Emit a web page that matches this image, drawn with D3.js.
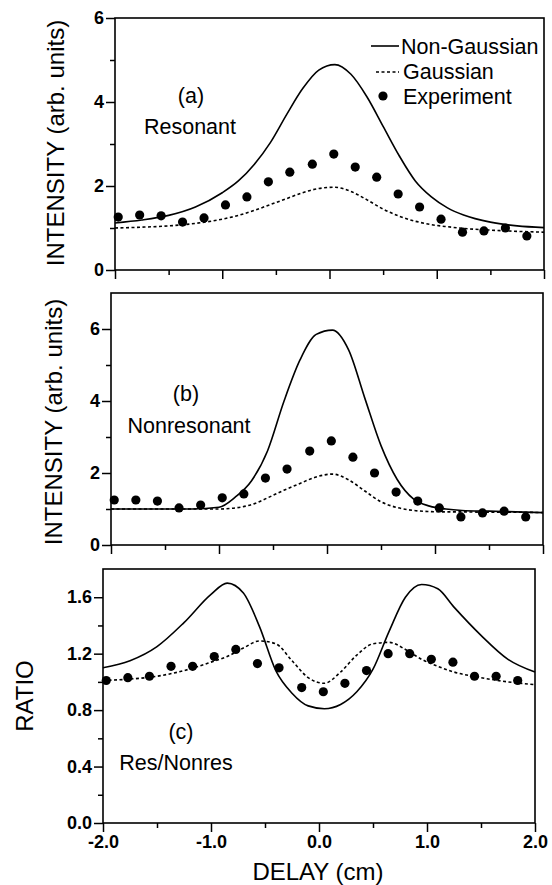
<!DOCTYPE html>
<html>
<head>
<meta charset="utf-8">
<script src="https://cdn.jsdelivr.net/npm/d3@7"></script>
<style>
  body { margin: 0; background: #fff; }
  svg { display: block; font-family: "Liberation Sans", Arial, sans-serif; }
</style>
</head>
<body>
<div id="chart"></div>
<script>
// measured delays (cm) of the experimental points
const delay = [-1.97, -1.77, -1.57, -1.37, -1.17, -0.97, -0.77, -0.57, -0.37, -0.16,
               0.04, 0.24, 0.44, 0.64, 0.84, 1.04, 1.24, 1.44, 1.64, 1.84];

const expA = [1.26, 1.31, 1.29, 1.14, 1.24, 1.55, 1.74, 2.10, 2.33, 2.52,
              2.76, 2.45, 2.21, 1.81, 1.50, 1.21, 0.90, 0.93, 1.00, 0.81];
const expB = [1.25, 1.25, 1.22, 1.03, 1.11, 1.31, 1.42, 1.86, 2.11, 2.61,
              2.89, 2.44, 2.00, 1.47, 1.22, 1.03, 0.78, 0.89, 0.94, 0.78];
const expC = [1.01, 1.03, 1.04, 1.11, 1.11, 1.18, 1.23, 1.13, 1.10, 0.96,
              0.93, 0.99, 1.08, 1.20, 1.20, 1.16, 1.14, 1.04, 1.04, 1.01];

// sample delays for the model curves
const curveX = [-2, -1.75, -1.5, -1.25, -1, -0.85, -0.7, -0.55, -0.4, -0.25, -0.1, 0.05,
                0.2, 0.35, 0.5, 0.65, 0.8, 0.95, 1.1, 1.25, 1.5, 1.75, 2];

const nonGaussA = [1.12, 1.19, 1.30, 1.50, 1.84, 2.12, 2.52, 3.04, 3.70, 4.32, 4.76, 4.89,
                   4.66, 4.12, 3.42, 2.72, 2.12, 1.74, 1.48, 1.31, 1.14, 1.05, 1.01];
const gaussA    = [1.00, 1.02, 1.05, 1.11, 1.21, 1.30, 1.42, 1.56, 1.70, 1.84, 1.94, 1.97,
                   1.87, 1.67, 1.45, 1.28, 1.16, 1.08, 1.03, 0.99, 0.95, 0.92, 0.90];

const nonGaussB = [1.00, 1.00, 1.00, 1.00, 1.05, 1.33, 1.78, 2.62, 3.98, 5.14, 5.85, 5.97,
                   5.42, 4.08, 2.76, 1.82, 1.28, 1.08, 1.00, 0.96, 0.94, 0.92, 0.90];
const gaussB    = [1.00, 1.00, 1.00, 1.00, 1.00, 1.03, 1.12, 1.31, 1.52, 1.71, 1.89, 1.97,
                   1.81, 1.50, 1.20, 1.04, 0.96, 0.93, 0.92, 0.92, 0.91, 0.91, 0.90];

const nonGaussC = [1.10, 1.15, 1.25, 1.42, 1.62, 1.70, 1.63, 1.39, 1.08, 0.92, 0.83, 0.81,
                   0.84, 0.93, 1.09, 1.36, 1.60, 1.69, 1.66, 1.53, 1.33, 1.16, 1.07];
const gaussC    = [1.01, 1.02, 1.04, 1.08, 1.14, 1.18, 1.24, 1.29, 1.27, 1.15, 1.03, 0.99,
                   1.07, 1.19, 1.27, 1.28, 1.23, 1.16, 1.11, 1.07, 1.03, 1.00, 0.98];

const xTicks = [-2, -1, 0, 1, 2];
const xMinor = [-1.5, -0.5, 0.5, 1.5];
const yTicksI = [0, 2, 4, 6];
const yMinorI = [1, 3, 5];
const yTicksR = [0, 0.4, 0.8, 1.2, 1.6];
const yMinorR = [0.2, 0.6, 1.0, 1.4];

const legendLabels = ["Non-Gaussian", "Gaussian", "Experiment"];

const svg = d3.select("#chart").append("svg")
    .attr("width", 552)
    .attr("height", 885);

const font = "'Liberation Sans', Arial, sans-serif";

function chart(p) {
    const x = d3.scaleLinear().domain([-2, 2]).range([p.left, p.right]);
    const y = d3.scaleLinear().domain([0, p.yMax]).range([p.bottom, p.top]);
    const g = svg.append("g");

    // y axis, major + minor
    g.append("g")
        .attr("transform", `translate(${p.left},0)`)
        .call(d3.axisLeft(y).tickValues(p.yTicks).tickSize(9).tickPadding(2).tickFormat(p.fmt));
    g.append("g")
        .attr("transform", `translate(${p.left},0)`)
        .call(d3.axisLeft(y).tickValues(p.yMinor).tickSize(5).tickFormat(""));

    // x axis, major + minor
    g.append("g")
        .attr("transform", `translate(0,${p.bottom})`)
        .call(d3.axisBottom(x).tickValues(xTicks).tickSize(9).tickPadding(3)
            .tickFormat(p.xLabels ? d3.format(".1f") : ""));
    g.append("g")
        .attr("transform", `translate(0,${p.bottom})`)
        .call(d3.axisBottom(x).tickValues(xMinor).tickSize(5).tickFormat(""));

    g.selectAll(".domain").remove();
    g.selectAll(".tick line").attr("stroke", "#000").attr("stroke-width", 1.5);
    g.selectAll(".tick text")
        .attr("fill", "#000")
        .style("font-family", font)
        .style("font-size", "18px")
        .style("font-weight", "bold")
        .text(function() { return d3.select(this).text().replace("\u2212", "-"); });

    // frame
    g.append("rect")
        .attr("x", p.left).attr("y", p.top)
        .attr("width", p.right - p.left).attr("height", p.bottom - p.top)
        .attr("fill", "none").attr("stroke", "#000").attr("stroke-width", 1.6);

    const line = d3.line()
        .x((d, i) => x(curveX[i]))
        .y(d => y(d))
        .curve(d3.curveMonotoneX);

    g.append("path")
        .attr("d", line(p.nonGauss))
        .attr("fill", "none").attr("stroke", "#000").attr("stroke-width", 1.6);
    g.append("path")
        .attr("d", line(p.gauss))
        .attr("fill", "none").attr("stroke", "#000").attr("stroke-width", 1.6)
        .attr("stroke-dasharray", "3,2.5");

    g.selectAll("circle.exp")
        .data(p.exp)
        .enter()
        .append("circle")
        .attr("class", "exp")
        .attr("cx", (d, i) => x(delay[i]))
        .attr("cy", d => y(d))
        .attr("r", 4.6)
        .attr("fill", "#000");

    // panel annotation
    g.append("text")
        .attr("x", p.tagX).attr("y", p.tagY)
        .attr("text-anchor", "middle")
        .style("font-size", "21.5px")
        .text(p.tag);
    g.append("text")
        .attr("x", p.nameX).attr("y", p.nameY)
        .attr("text-anchor", "middle")
        .style("font-size", "21.5px")
        .text(p.name);

    // y axis title
    g.append("text")
        .attr("transform", `translate(${p.titleX},${p.titleY}) rotate(-90)`)
        .attr("text-anchor", "middle")
        .style("font-size", "24px")
        .text(p.yTitle);
}

chart({
    left: 115, right: 544, top: 18, bottom: 270, yMax: 6,
    yTicks: yTicksI, yMinor: yMinorI, fmt: d3.format("d"),
    exp: expA, nonGauss: nonGaussA, gauss: gaussA,
    tag: "(a)", tagX: 191, tagY: 103, name: "Resonant", nameX: 190, nameY: 134,
    yTitle: "INTENSITY (arb. units)", titleX: 64, titleY: 143
});

chart({
    left: 111, right: 543, top: 293, bottom: 545, yMax: 7,
    yTicks: yTicksI, yMinor: yMinorI, fmt: d3.format("d"),
    exp: expB, nonGauss: nonGaussB, gauss: gaussB,
    tag: "(b)", tagX: 186, tagY: 401, name: "Nonresonant", nameX: 189, nameY: 433,
    yTitle: "INTENSITY (arb. units)", titleX: 62, titleY: 422
});

chart({
    left: 103, right: 535, top: 569, bottom: 823, yMax: 1.8,
    yTicks: yTicksR, yMinor: yMinorR, fmt: d3.format(".1f"), xLabels: true,
    exp: expC, nonGauss: nonGaussC, gauss: gaussC,
    tag: "(c)", tagX: 181, tagY: 739, name: "Res/Nonres", nameX: 176, nameY: 770,
    yTitle: "RATIO", titleX: 33, titleY: 696
});

// x axis title
svg.append("text")
    .attr("x", 318).attr("y", 880)
    .attr("text-anchor", "middle")
    .style("font-size", "24px")
    .text("DELAY (cm)");

// legend (panel a)
const legend = svg.append("g").style("font-size", "21.5px");
legend.append("line")
    .attr("x1", 371).attr("x2", 399).attr("y1", 46).attr("y2", 46)
    .attr("stroke", "#000").attr("stroke-width", 1.6);
legend.append("line")
    .attr("x1", 376).attr("x2", 399).attr("y1", 72).attr("y2", 72)
    .attr("stroke", "#000").attr("stroke-width", 1.6).attr("stroke-dasharray", "3,2.5");
legend.append("circle")
    .attr("cx", 383).attr("cy", 96).attr("r", 4.6).attr("fill", "#000");
legend.selectAll("text.lab")
    .data(legendLabels)
    .enter()
    .append("text")
    .attr("class", "lab")
    .attr("x", (d, i) => i === 0 ? 401 : 403)
    .attr("y", (d, i) => 54 + i * 25)
    .text(d => d);
</script>
</body>
</html>
